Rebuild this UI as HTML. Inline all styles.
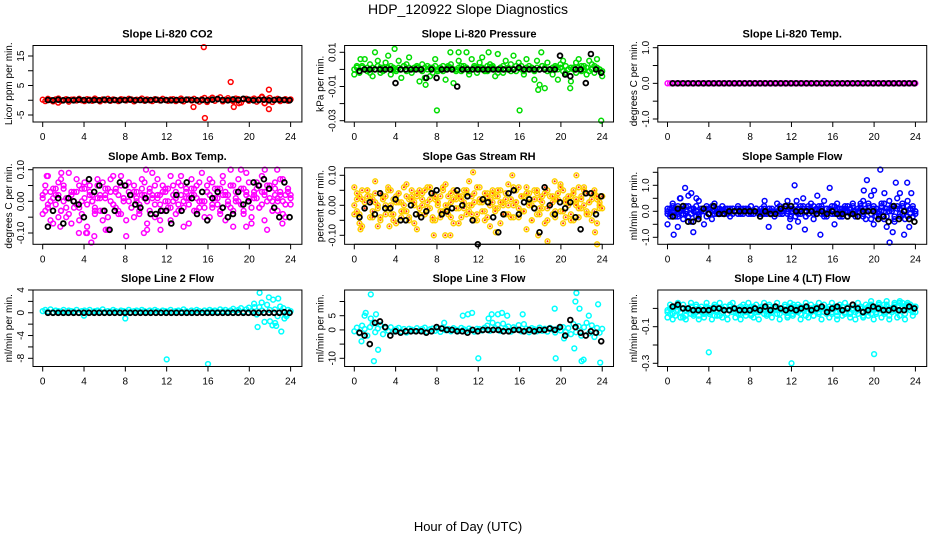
<!DOCTYPE html>
<html><head><meta charset="utf-8"><style>
html,body{margin:0;padding:0;background:#fff;}
svg{display:block;font-family:"Liberation Sans",Arial,sans-serif;}
</style></head><body>
<svg id="chart" width="936" height="540" viewBox="0 0 936 540">
<rect x="0" y="0" width="936" height="540" fill="#fff"/>
<text x="468" y="14" text-anchor="middle" font-size="14">HDP_120922  Slope Diagnostics</text>
<text x="468" y="531" text-anchor="middle" font-size="13">Hour of Day (UTC)</text>
</svg>
<script>
// ---------- data ----------
var xTicks = [0,4,8,12,16,20,24];
var panelTitles = ["Slope Li-820 CO2","Slope Li-820 Pressure","Slope Li-820 Temp.","Slope Amb. Box Temp.","Slope Gas Stream RH","Slope Sample Flow","Slope Line 2 Flow","Slope Line 3 Flow","Slope Line 4 (LT) Flow"];
var yTitles = ["Licor ppm per min.","kPa per min.","degrees C per min.","degrees C per min.","percent per min.","ml/min per min.","ml/min per min.","ml/min per min.","ml/min per min."];
var yTickVals = [[-5,0,5,10,15],[0.01,0,-0.01,-0.02,-0.03],[1,0.5,0,-0.5,-1],[0.1,0.05,0,-0.05,-0.1],[0.1,0.05,0,-0.05,-0.1],[-1,-0.5,0,0.5,1,1.5],[4,2,0,-2,-4,-6,-8],[10,5,0,-5,-10],[0,-0.1,-0.2,-0.3]];
var yTickLabels = [["-5","","5","","15"],["0.01","","-0.01","","-0.03"],["1.0","","0.0","","-1.0"],["0.10","","0.00","","-0.10"],["0.10","","0.00","","-0.10"],["-1.0","","0.0","","1.0",""],["4","","0","","-4","","-8"],["","5","0","","-10"],["","-0.1","","-0.3"]];

var co2Main = [0.2,-0.3,0.5,0.1,-0.4,0.3,0.6,-0.2,0.1,0.4,-0.5,0.2,0.3,-0.1,0.5,0.0,-0.3,0.4,0.2,-0.2,0.6,0.1,-0.4,0.3,0.0,0.5,-0.2,0.3,0.1,-0.3,0.4,0.2,-0.1,0.5,0.3,-0.4,0.2,0.1,0.6,-0.2,0.3,0.0,-0.3,0.4,0.2,-0.1,0.5,0.1,-0.2,0.3,0.4,-0.3,0.1,0.6,-0.4,0.2,0.3,-0.1,0.5,0.0,-0.5,0.4,0.8,-0.6,0.3,0.9,-0.2,0.5,1.0,-0.4,0.2,0.7,0.1,-0.3,0.6,0.4,-0.8,0.3,0.5,-0.2,0.2,0.6,-0.5,0.4,1.2,-1.0,0.3,0.8,-0.6,0.2,0.5,-0.3,0.1,0.4,-0.2,0.3];
var co2OutHour = [15.6,15.7,18.2,14.6,18.5,21.9,21.9,19.0,21.5,1.5,21.2];
var co2OutVal = [18,-6,6.2,-2.3,-2.3,3.6,-3,-1,-1,-0.8,1];
var co2Black = [0.1,0,0.2,0,0.1,0,0.2,0.1,0,0.1,0,0.2,0,0.1,0,0.1,0.2,0,0.1,0,0.1,0.2,0,0.1,0,0.1,0,0.2,0.1,0,0.1,0,0.2,0.4,0.1,0,0.3,0.1,0.5,0.2,0,0.1,0.2,0,0.1,0.2,0.1,0];

var presMain = [-3,2,-2,1,6,-1,3,-4,0,5,-2,1,4,8,-3,1,0,5,-5,2,3,7,-2,0,1,-7,3,-5,2,-4,1,6,-1,0,2,-6,1,3,-8,0,5,-1,2,10,-3,6,1,-2,4,7,0,-1,3,2,-4,9,1,-2,5,0,3,8,-1,4,2,-3,6,0,1,-6,5,-9,2,-11,4,0,-3,1,-6,3,5,-2,0,-7,1,4,6,-1,2,-3,5,3,-2,6,0,-4];
var presFill = [0,1,-1,2,0,1,-2,1,0,2,1,-1,0,1,2,0,-1,1,0,2,-1,1,0,1,2,0,-1,1,0,1,-2,2,0,1,-1,0,2,1,0,-1,1,2,0,1,-1,0,2,1,0,1,-1,2,0,1,0,-2,1,2,0,1,-1,0,2,1,0,-1,1,2,0,-1,1,0,2,1,-1,0,1,2,0,1,-1,2,0,1,0,-2,1,2,0,1,-1,0,2,1,0,-1];
var presOutHour = [8,16,23.9,3.9,0.6,2.0,9.3,10.1,13.0,18.1,6.9,17.8,20.9];
var presOutVal = [-24,-24,-30,12,6,10,10,10,10,10,-9,-12,-11];
var presBlack = [-1,0,0,0,0,0,0,-8,0,0,0,0,0,-5,0,-5,0,0,0,-10,0,0,0,0,0,0,0,0,0,0,0,1,0,0,0,0,0,0,0,8,-3,-4,0,0,-8,9,0,-2];

var tempMain = [0,0,0,0,0,0,0,0,0,0,0,0,0,0,0,0,0,0,0,0,0,0,0,0,0,0,0,0,0,0,0,0,0,0,0,0,0,0,0,0,0,0,0,0,0,0,0,0,0,0,0,0,0,0,0,0,0,0,0,0,0,0,0,0,0,0,0,0,0,0,0,0,0,0,0,0,0,0,0,0,0,0,0,0,0,0,0,0,0,0,0,0,0,0,0,0];
var tempBlack = [0,0,0,0,0,0,0,0,0,0,0,0,0,0,0,0,0,0,0,0,0,0,0,0,0,0,0,0,0,0,0,0,0,0,0,0,0,0,0,0,0,0,0,0,0,0,0,0];

var ambA = [2,-3,8,-6,1,4,-5,7,0,-2,9,-7,3,-1,5,-4,6,-8,2,0,-3,7,1,-6,4,-9,3,8,-2,-4,5,0,-11,6,2,-5,3,-3,7,1,-7,4,9,-1,2,-6,5,3,-2,8,0,-4,6,2,-8,4,1,7,-3,5,0,9,-2,3,-5,6,1,-1,4,8,-6,2,5,-3,0,7,10,-4,3,6,-7,1,4,-2,8,3,-9,5,0,6,-3,2,7,-5,4,1];
var ambB = [-4,5,-1,3,-7,2,6,-3,4,-5,1,3,-2,7,-6,0,4,-10,5,2,-4,1,-3,6,2,-5,7,-1,4,-3,8,1,-6,3,-2,5,0,-4,2,6,-9,3,1,-5,7,2,-3,4,0,-6,5,3,-1,8,-2,1,-7,4,2,-3,6,0,-5,3,7,-2,1,4,-4,6,2,-1,5,-8,3,0,4,-3,9,1,-5,2,6,-2,3,-6,5,1,-3,4,0,7,-4,2,3,-1];
var ambC = [1,3,-2,0,4,-1,2,-3,5,1,-4,2,0,3,-2,4,1,-1,3,0,-2,5,2,-3,1,4,0,-1,3,2,-4,1,5,0,-2,3,1,-1,4,2,0,-3,2,5,1,-1,3,0,4,-2,2,1,-3,5,0,3,-1,2,4,1,-2,3,0,5,2,-1,4,1,-3,2,3,0,-2,5,1,3,-1,4,2,0,-2,3,1,5,-1,2,0,4,-3,2,1,3,0,-1,4,2];
var ambOutHour = [0.4,1.8,4.2,5.0,4.7,10.0,9.8,11.4,3.5,18.2,21.5,22.7,23.2,19.7,1.7,6.1];
var ambOutVal = [8,9,-10,-11,-13,10,-10,-9,-10,10,10,10,-7,-8,-8,-9];
var ambBlack = [-8,-3,1,-7,1,0,-1,-5,7,3,5,-3,-9,-3,6,5,2,-1,-2,1,-4,-4,-3,-3,-7,2,-3,6,1,-4,3,-6,1,3,-2,-5,-4,3,-1,0,6,5,7,4,-2,-5,6,-5];

var rhA = [6,-2,3,-7,1,5,-4,2,8,-1,-5,3,0,6,-3,2,-6,4,1,-2,7,-4,3,0,-8,5,2,-3,6,-1,4,-5,1,3,-2,7,0,-4,5,2,-6,3,-1,4,8,-3,1,-5,6,2,-2,4,-7,1,3,-1,5,0,-3,7,2,-4,1,6,-2,3,-8,4,0,5,-3,2,-1,6,-5,3,1,-2,4,7,-6,2,0,-3,5,1,-4,3,6,-2,1,-5,4,2,-1,3];
var rhB = [-3,4,-6,2,-1,5,3,-4,1,-7,4,2,-3,5,0,-5,3,1,-4,6,-2,2,5,-6,3,-1,4,-3,1,6,-5,2,0,-4,5,-2,3,1,-6,4,-1,2,5,-3,0,3,-5,6,1,-2,4,-4,2,5,-1,3,-6,1,4,-3,2,0,5,-4,3,-2,6,1,-5,2,4,-1,3,-6,5,0,-3,2,4,-2,5,-4,1,3,-5,2,6,-1,0,4,-3,2,5,-6,1,3];
var rhC = [0,2,-3,5,-1,3,1,-2,4,0,-4,2,3,-1,5,-3,1,4,-2,0,3,-5,2,1,4,-3,0,5,-1,2,-4,3,1,-2,6,0,-3,4,2,-1,3,-4,1,5,-2,0,4,-3,2,1,-5,3,0,4,-2,5,1,-3,2,0,-4,6,1,-1,3,-2,4,0,-5,2,5,-3,1,4,-1,0,3,-4,2,6,-2,1,3,-5,4,0,-1,2,5,-3,1,4,-2,3,0,-1];
var rhOutHour = [11.5,15.3,17.8,18.7,19.4,21.5,23.5,23.3,0.6,3.4,7.7,8.8,9.3,13.7];
var rhOutVal = [11,10,-10,-12,8,10,-13,-9,-8,-7,-10,-10,-10,-9];
var rhBlack = [-4,-1,1,-3,4,-1,-1,2,-5,-5,0,-3,-4,-2,4,5,-3,-2,-1,5,0,3,-5,-13,2,1,-4,-9,-3,4,5,-3,1,2,-1,-9,6,0,-3,1,-1,1,-4,-8,4,4,-3,3];

var flowMain = [1,-2,3,0,-1,5,-3,2,6,-4,1,-2,4,0,-5,2,1,-3,3,0,-1,2,0,1,-2,1,0,2,-1,1,0,-1,2,0,1,-1,0,2,-1,1,0,-2,3,0,-1,2,4,-3,1,0,-4,2,5,-2,1,3,-3,0,2,-1,4,-2,1,0,-5,3,1,-2,2,0,-1,3,0,-2,1,4,-3,2,6,-5,1,-2,3,0,-6,4,1,-4,5,-2,2,-3,4,1,-2,0];
var flowFill = [-1,1,0,-2,2,1,-1,0,2,-1,1,0,-2,1,0,1,-1,2,0,-1,1,0,1,-1,0,1,0,-1,1,0,0,1,-1,0,1,0,-1,1,0,0,1,-1,0,2,-1,1,0,-2,1,2,-1,0,1,-2,2,0,-1,1,0,2,-1,1,0,-1,2,0,-1,1,0,-2,1,2,-1,0,3,-2,1,0,-3,2,1,-1,0,3,-2,1,0,-3,2,1,-1,0,2,-1,1,0];
var flowFill2 = [0,-1,2,1,-2,0,1,-1,-2,1,0,2,-1,0,1,-2,1,0,-1,1,0,-1,1,0,1,-1,0,1,0,-1,1,0,0,-1,1,0,1,-1,0,1,-1,0,1,-1,0,2,-1,1,0,-2,1,-1,2,0,-1,1,2,-1,0,1,-2,1,0,2,-1,1,-2,0,1,2,-1,0,-2,1,2,-1,0,3,-1,1,-2,0,2,-3,1,0,2,-2,1,-1,3,0,-2,1,2,-1];
var flowOutHour = [0,0.6,1.2,1.7,2.3,2.5,2.8,1.0,12.3,12.5,13.3,14.5,15.7,9.8,19.0,19.3,20.0,20.6,21.0,21.5,21.8,22.1,22.5,22.9,23.2,23.6,23.4,11.8,14.8,9.4];
var flowOutVal = [-5,-9,5,9,7,-8,5,-6,10,4,-7,6,9,-6,8,12,8,16,7,-12,-8,11,7,-9,11,7,-6,-6,-9,4];
var flowBlack = [-2,1,2,-4,-4,-3,1,-1,2,-1,-1,0,0,0,0,0,0,-2,0,-1,-1,1,2,2,0,0,0,0,-1,0,-1,0,-1,-1,-2,-1,-2,0,0,0,-3,-2,-4,2,-3,0,-3,-4];

var l2Main = [0.3,0.5,0.2,0.6,0.1,0.4,0.3,0.2,0.5,0.1,0.4,0.3,0.2,0.5,0.0,0.3,0.4,0.2,0.5,0.1,0.3,0.4,0.2,0.6,0.1,0.3,0.2,0.5,0.3,0.1,0.4,0.3,0.2,0.5,0.1,0.3,0.4,0.2,0.5,0.3,0.1,0.4,0.2,0.5,0.3,0.1,0.4,0.3,0.2,0.5,0.1,0.3,0.4,0.2,0.6,0.3,0.1,0.4,0.2,0.5,0.3,0.1,0.4,0.2,0.5,0.3,0.4,0.2,0.6,0.3,0.5,0.2,0.4,0.7,0.3,0.5,0.8,0.2,0.6,0.9,0.3,1.6,-0.3,1.0,0.4,-1.6,1.4,0.5,-2.2,0.6,-0.6,1.1,0.2,-0.4,0.5,0.3];
var l2OutHour = [12,16,8,4,20.8,21.2,21.9,22.0,22.3,22.6,22.8,23.1,23.3,23.6,20.5,21.0,22.5,23.4];
var l2OutVal = [-8.2,-9,-1,-0.5,-2.5,1.8,2.7,-1.5,2.3,-2.3,2.5,-3.3,0.8,-0.6,1,3.5,-1.8,-1];
var l2Black = [0,0,0,0,0,0,0,0,0,0,0,0,0,0,0,0,0,0,0,0,0,0,0,0,0,0,0,0,0,0,0,0,0,0,0,0,0,0,0,0,0,0,0,0,0,0,0.1,0];

var l3Main = [-0.5,0.8,-1.2,1.5,0.3,-2.0,1.0,2.2,-0.8,0.5,1.8,-1.5,0.6,-0.3,0.9,-0.6,0.2,0.7,-0.5,0.3,-0.9,0.4,0.1,-0.4,0.6,-0.2,0.3,0.8,-0.6,0.2,0.5,-0.3,0.4,-0.7,0.9,-0.1,0.3,-0.5,0.6,0.1,-0.4,0.7,0.2,-0.3,0.5,0.0,-0.6,0.4,0.3,-0.2,0.8,1.5,-0.3,2.5,0.6,1.8,-0.4,2.2,0.5,1.2,-0.6,0.9,0.3,1.7,-0.5,2.0,0.4,-0.8,0.6,0.2,-0.5,0.8,-0.3,0.4,-0.6,0.7,0.2,-0.9,0.5,-0.2,1.0,-0.7,0.6,-1.5,2.0,-0.8,1.3,-2.0,0.9,2.5,-1.2,1.6,-2.5,0.7,-1.0,0.4];
var l3OutHour = [1.6,1.9,1.0,1.1,2.1,2.3,1.6,0.7,8.7,10.5,11.0,11.4,12.0,13.0,13.3,13.9,14.3,14.8,16.3,19.4,19.5,20.3,21.3,21.5,21.8,22.0,22.2,22.7,23.6,23.8,21.4];
var l3OutVal = [12.5,-11,5,6,5.5,-7,4,-4,2.5,5,5.5,6,-10,4,5.5,5.5,6,5,5.5,7.5,-10,-3,-6.5,13,7.5,-11,-10.5,5,9,-11.5,10];
var l3Black = [-1,-2,-5,2.5,3,1,-2,-0.5,-1,-0.5,-0.5,-0.5,-0.5,-1,-0.5,1,0.5,0,0,-0.5,-0.5,-1,0,-0.5,0,0,0,0,-0.5,-0.5,0,0,-0.5,0,-0.5,0,0,0.5,0,1,-2,3.5,1,-1,-2,-0.5,-1,-4];

var l4Main = [-1,-3,0,-4,1,-2,-5,-1,0,-3,-2,1,-4,-1,-2,0,-3,-1,1,-2,-4,0,-1,-3,1,-2,0,-1,-3,-2,1,-1,-4,0,-2,-1,1,-3,0,-2,-1,1,-3,-1,0,-2,-4,1,-1,-2,0,-3,-1,1,-2,0,-4,-1,-2,1,0,-3,-1,-2,1,-4,0,-1,-2,1,-3,0,-2,-1,1,-4,0,-2,2,-1,-3,1,0,-2,2,-4,-1,1,-2,3,0,-3,2,-1,1,-2];
var l4Fill = [-2,0,-3,1,-1,-2,0,-4,-1,1,-3,-2,0,-1,-3,1,-2,0,-4,-1,0,-2,1,-3,-1,0,-2,-3,1,-1,-2,0,-3,1,-1,-2,0,-1,-3,1,-2,0,-1,-3,0,1,-2,-1,-3,0,-2,1,-1,-4,0,-2,-1,1,-3,0,-2,-1,1,-3,0,-2,-1,1,-3,0,-2,-1,1,-3,0,-2,-1,1,-3,0,-2,2,-1,-3,1,0,-2,2,-1,-4,3,-1,0,2,-2,1];
var l4Fill2 = [-5,2,-6,1,3,-5,2,-6,0,3,-4,2,-6,1,-5,3,0,-6,2,-4,3,-5,1,-6,2,3,-5,0,-6,2,-4,3,1,-5,2,-6,0,3,-4,2,-5,1,3,-6,0,2,-5,3,-4,1,2,-6,0,3,-5,2,-4,1,3,-6,2,0,-5,3,1,-6,2,-4,3,0,-5,2,-6,3,1,-5,2,-4,4,-6,1,3,-5,2,4,-6,0,3,-5,4,1,-6,3,2,-4,1];
var l4OutHour = [4,12,20,12.2,21.9,23.5,23.0];
var l4OutVal = [-24,-30,-25,2,1,2,1.5];
var l4Black = [1,2,0,0,-1,-1,-1,-1,0,0,-1,-1,0,-1,-1,-1,0,-1,1,-1,1,0,-1,0,-1,0,1,-1,0,1,-2,0,1,-1,0,2,0,-2,-1,1,0,-1,-1,0,-1,-1,1,0];

// ---------- layout ----------
var svg = document.getElementById('chart');
var NS = 'http://www.w3.org/2000/svg';
var colX0 = [42.7, 354.3, 667.5];
var rowBox = [[45.5,122],[167.8,244.3],[290,366.5]];
var pxPerHour = 10.33;
var yRef = [[15,56,-5,115],[0.01,52.3,-0.03,120.7],[1,47.7,-1,119],[0.1,169.7,-0.1,233],[0.1,175.3,-0.1,235.3],[1,185.3,-1,237.3],[4,290,-8,358.3],[5,315.7,-10,358.3],[-0.1,326.7,-0.3,363.3]];

function mk(tag, attrs, parent){
  var e = document.createElementNS(NS, tag);
  for (var k in attrs) e.setAttribute(k, attrs[k]);
  (parent||svg).appendChild(e);
  return e;
}
function evenHours(n, a, b){ var t=[]; for (var i=0;i<n;i++) t.push(a + (b-a)*i/(n-1)); return t; }

function drawPanel(p, series){
  var col = p % 3, row = Math.floor(p/3);
  var x0 = colX0[col];
  var left = x0 - 9.7, right = x0 + 24*pxPerHour + 11.3;
  var top = rowBox[row][0], bot = rowBox[row][1];
  var r = yRef[p];
  var xs = function(h){ return x0 + h*pxPerHour; };
  var ys = function(v){ return r[1] + (v - r[0])*(r[3]-r[1])/(r[2]-r[0]); };
  var g = mk('g', {});
  
  
  var t = mk('text', {x:(left+right)/2, y:top-8, 'text-anchor':'middle', 'font-size':'11', 'font-weight':'bold'}, g);
  
  
  t.textContent = panelTitles[p];
  var pts = mk('g', {}, g);
  
  
  series.forEach(function(s){
    for (var i=0;i<s.vals.length;i++){
      var cx = xs(s.hours[i]), cy = ys(s.vals[i]*s.scale);
      var c = mk('circle', {cx:cx.toFixed(1), cy:cy.toFixed(1), r:'2.4', fill:'none', stroke:s.color, 'stroke-width':s.sw||1.5}, pts);
      
      
      if (s.dot){
        var d = mk('circle', {cx:cx.toFixed(1), cy:cy.toFixed(1), r:'1', fill:s.dot}, pts);
        
        
      }
    }
  });
  var box = mk('rect', {x:left, y:top, width:right-left, height:bot-top, fill:'none', stroke:'#000', 'stroke-width':'1'}, g);
  
  
  var xa = mk('g', {}, g);
  
  
  mk('line', {x1:xs(xTicks[0]), x2:xs(xTicks[xTicks.length-1]), y1:bot, y2:bot, stroke:'#000'}, xa);
  xTicks.forEach(function(h){
    mk('line', {x1:xs(h), x2:xs(h), y1:bot, y2:bot+5, stroke:'#000'}, xa);
    var lt = mk('text', {x:xs(h), y:bot+18, 'text-anchor':'middle', 'font-size':'10'}, xa);
    
    
    lt.textContent = h;
  });
  var ya = mk('g', {}, g);
  
  
  var tv = yTickVals[p];
  mk('line', {x1:left, x2:left, y1:ys(Math.max.apply(null,tv)), y2:ys(Math.min.apply(null,tv)), stroke:'#000'}, ya);
  tv.forEach(function(v, i){
    mk('line', {x1:left-5, x2:left, y1:ys(v), y2:ys(v), stroke:'#000'}, ya);
    var lbl = yTickLabels[p][i];
    if (lbl){
      var yt = mk('text', {x:0, y:0, 'text-anchor':'middle', 'font-size':'10', transform:'translate('+(left-9)+','+ys(v)+') rotate(-90)'}, ya);
      
      
      yt.textContent = lbl;
    }
  });
  var yt2 = mk('text', {x:0, y:0, 'text-anchor':'middle', 'font-size':'10', transform:'translate('+(left-21)+','+((top+bot)/2)+') rotate(-90)'}, ya);
  
  
  yt2.textContent = yTitles[p];
}

function S(vals, hours, color, scale, extra){
  var o = {vals:vals, hours:hours, color:color, scale:scale};
  if (extra) for (var k in extra) o[k]=extra[k];
  return o;
}
var hm = function(a){ return evenHours(a.length, 0, 24); };
var hb = function(a){ return evenHours(a.length, 0.5, 23.9); };

drawPanel(0, [S(co2Main, hm(co2Main), '#ff0000', 1), S(co2OutVal, co2OutHour, '#ff0000', 1), S(co2Black, hb(co2Black), '#000', 1, {sw:1.8})]);
drawPanel(1, [S(presMain, hm(presMain), '#00dd00', 0.001), S(presFill, hm(presFill), '#00dd00', 0.001), S(presOutVal, presOutHour, '#00dd00', 0.001), S(presBlack, hb(presBlack), '#000', 0.001, {sw:1.8})]);
drawPanel(2, [S(tempMain, hm(tempMain), '#ff00ff', 1), S(tempBlack, hb(tempBlack), '#000', 1, {sw:1.8})]);
drawPanel(3, [S(ambA, hm(ambA), '#ff00ff', 0.01), S(ambB, hm(ambB), '#ff00ff', 0.01), S(ambC, hm(ambC), '#ff00ff', 0.01), S(ambOutVal, ambOutHour, '#ff00ff', 0.01), S(ambBlack, hb(ambBlack), '#000', 0.01, {sw:1.8})]);
drawPanel(4, [S(rhA, hm(rhA), '#ffd000', 0.01, {dot:'#ff3000'}), S(rhB, hm(rhB), '#ffd000', 0.01, {dot:'#ff3000'}), S(rhC, hm(rhC), '#ffd000', 0.01, {dot:'#ff3000'}), S(rhOutVal, rhOutHour, '#ffd000', 0.01, {dot:'#ff3000'}), S(rhBlack, hb(rhBlack), '#000', 0.01, {sw:1.8})]);
drawPanel(5, [S(flowMain, hm(flowMain), '#0000ff', 0.1), S(flowFill, hm(flowFill), '#0000ff', 0.1), S(flowFill2, hm(flowFill2), '#0000ff', 0.1), S(flowOutVal, flowOutHour, '#0000ff', 0.1), S(flowBlack, hb(flowBlack), '#000', 0.1, {sw:1.8})]);
drawPanel(6, [S(l2Main, hm(l2Main), '#00ffff', 1), S(l2OutVal, l2OutHour, '#00ffff', 1), S(l2Black, hb(l2Black), '#000', 1, {sw:1.8})]);
drawPanel(7, [S(l3Main, hm(l3Main), '#00ffff', 1), S(l3OutVal, l3OutHour, '#00ffff', 1), S(l3Black, hb(l3Black), '#000', 1, {sw:1.8})]);
drawPanel(8, [S(l4Main, hm(l4Main), '#00ffff', 0.01), S(l4Fill, hm(l4Fill), '#00ffff', 0.01), S(l4Fill2, hm(l4Fill2), '#00ffff', 0.01), S(l4OutVal, l4OutHour, '#00ffff', 0.01), S(l4Black, hb(l4Black), '#000', 0.01, {sw:1.8})]);
</script>
</body></html>
